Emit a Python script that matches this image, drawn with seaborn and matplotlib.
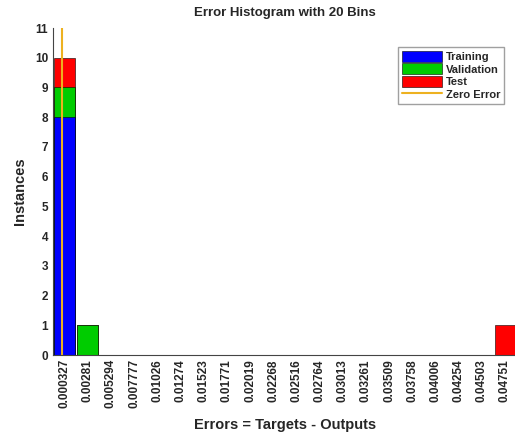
import numpy as np
import pandas as pd
import seaborn as sns
import matplotlib.pyplot as plt
from matplotlib.patches import Patch
from matplotlib.lines import Line2D

# bin centres (as printed on the x axis)
bin_labels = ['0.000327', '0.00281', '0.005294', '0.007777', '0.01026', '0.01274',
              '0.01523', '0.01771', '0.02019', '0.02268', '0.02516', '0.02764',
              '0.03013', '0.03261', '0.03509', '0.03758', '0.04006', '0.04254',
              '0.04503', '0.04751']
bin_centers = [float(s) for s in bin_labels]
training = [8, 0, 0, 0, 0, 0, 0, 0, 0, 0, 0, 0, 0, 0, 0, 0, 0, 0, 0, 0]
validation = [1, 1, 0, 0, 0, 0, 0, 0, 0, 0, 0, 0, 0, 0, 0, 0, 0, 0, 0, 0]
test = [1, 0, 0, 0, 0, 0, 0, 0, 0, 0, 0, 0, 0, 0, 0, 0, 0, 0, 0, 1]

df = pd.DataFrame({'bin': bin_labels, 'Training': training,
                   'Validation': validation, 'Test': test})
df['tv'] = df['Training'] + df['Validation']
df['tvt'] = df['tv'] + df['Test']

sns.set_style('white')
plt.rcParams['font.family'] = ['Liberation Sans', 'DejaVu Sans']

fig = plt.figure(figsize=(5.15, 4.41), dpi=100)
ax = fig.add_axes([0.103, 0.195, 0.90, 0.7415])

blue, green, red, orange = '#0000ff', '#00cc00', '#ff0000', '#edb120'
# stacked bars: draw totals first, then overlay lower parts
sns.barplot(data=df, x='bin', y='tvt', color=red, saturation=1, width=0.9,
            edgecolor='black', linewidth=0.4, ax=ax)
sns.barplot(data=df, x='bin', y='tv', color=green, saturation=1, width=0.9,
            edgecolor='black', linewidth=0.4, ax=ax)
sns.barplot(data=df, x='bin', y='Training', color=blue, saturation=1, width=0.9,
            edgecolor='black', linewidth=0.4, ax=ax)

# zero error line in category coordinates
step = bin_centers[1] - bin_centers[0]
zero_pos = (0 - bin_centers[0]) / step
ax.plot([zero_pos, zero_pos], [0, 11], color=orange, lw=1.5)

ax.set_xlim(-0.5, 19.5)
ax.set_ylim(0, 11)
ax.set_yticks(range(0, 12))
ax.tick_params(axis='x', labelrotation=90, labelsize=8.5, length=2, direction='in', pad=3)
ax.tick_params(axis='y', labelsize=8.5, length=2, direction='in')
for lbl in ax.get_xticklabels() + ax.get_yticklabels():
    lbl.set_fontweight('bold')
ax.set_xlabel('Errors = Targets - Outputs', fontsize=10.5, fontweight='bold', labelpad=7)
ax.set_ylabel('Instances', fontsize=10.5, fontweight='bold', labelpad=6)
ax.set_title('Error Histogram with 20 Bins', fontsize=9.5, fontweight='bold', pad=9)
for s in ['top', 'right']:
    ax.spines[s].set_visible(False)
for s in ['left', 'bottom']:
    ax.spines[s].set_color('#444444')
    ax.spines[s].set_linewidth(0.8)

handles = [Patch(facecolor=blue, edgecolor='black', lw=0.4),
           Patch(facecolor=green, edgecolor='black', lw=0.4),
           Patch(facecolor=red, edgecolor='black', lw=0.4),
           Line2D([], [], color=orange, lw=1.5)]
leg = ax.legend(handles, ['Training', 'Validation', 'Test', 'Zero Error'],
                loc='upper right', bbox_to_anchor=(0.985, 0.96), fontsize=8,
                frameon=True, fancybox=False, edgecolor='#888888',
                handlelength=3.6, handleheight=1.2, handletextpad=0.3,
                labelspacing=0.1, borderpad=0.35)
for t in leg.get_texts():
    t.set_fontweight('bold')

fig.savefig('out.png', dpi=100)
